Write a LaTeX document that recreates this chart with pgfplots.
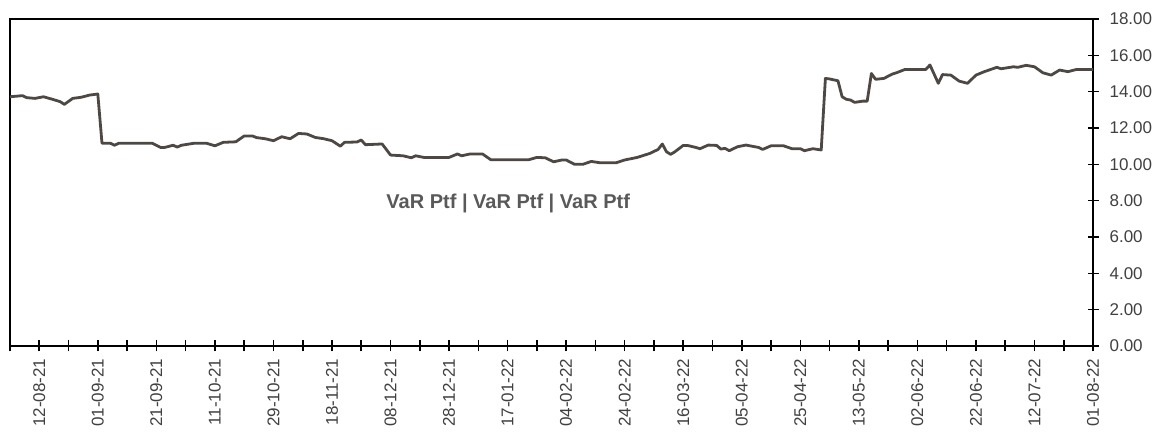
\documentclass[border=0pt]{standalone}
\usepackage{fontspec}
\setmainfont{Liberation Sans}
\usepackage{pgfplots}
\pgfplotsset{compat=1.18}
\definecolor{varline}{RGB}{77,72,68}
\definecolor{ticktxt}{RGB}{64,64,64}
\definecolor{ttltxt}{RGB}{89,89,89}

\begin{document}
\begin{tikzpicture}
  \useasboundingbox (-5pt,-43pt) rectangle (575pt,173pt);
  \begin{axis}[
      scale only axis, width=541.5pt, height=163.5pt,
      xmin=0, xmax=259, ymin=0, ymax=18,
      axis line style={black, line width=0.8pt},
      xtick={7,21,35,49,63,77,91,105,119,133,147,161,175,189,203,217,231,245,259},
      xticklabels={12-08-21,01-09-21,21-09-21,11-10-21,29-10-21,18-11-21,08-12-21,28-12-21,17-01-22,04-02-22,24-02-22,16-03-22,05-04-22,25-04-22,13-05-22,02-06-22,22-06-22,12-07-22,01-08-22},
      minor xtick={0,14,28,42,56,70,84,98,112,126,140,154,168,182,196,210,224,238,252},
      xtick pos=bottom, ytick pos=right, yticklabel pos=right,
      tick align=center, major tick length=5.5pt, minor tick length=5.5pt,
      tick style={black, line width=0.8pt},
      ytick={0,2,...,18},
      x tick label style={rotate=90, anchor=east, font=\fontsize{8.5}{10}\selectfont, text=ticktxt},
      y tick label style={font=\fontsize{8.5}{10}\selectfont, text=ticktxt, xshift=2pt},
      yticklabel style={/pgf/number format/.cd, fixed, fixed zerofill, precision=2, assume math mode=true},
      clip=false,
    ]
    \addplot[varline, line width=1.4pt, line join=round] coordinates {
      (0,13.72)(3,13.78)(4,13.67)(6,13.63)(8,13.72)(10,13.59)(12,13.45)(13,13.30)
      (15,13.63)(17,13.69)(19,13.81)(21,13.87)(22,11.16)(24,11.16)(25,11.05)(26,11.16)
      (34,11.16)(36,10.93)(37,10.93)(39,11.05)(40,10.95)(41,11.05)(44,11.16)(47,11.16)
      (49,11.02)(51,11.21)(54,11.24)(56,11.56)(58,11.56)(59,11.47)(61,11.41)(63,11.30)
      (65,11.52)(66,11.46)(67,11.41)(69,11.70)(71,11.67)(73,11.48)(75,11.41)(77,11.30)
      (79,11.00)(80,11.21)(83,11.23)(84,11.34)(85,11.08)(89,11.12)(91,10.51)(94,10.47)
      (96,10.36)(97,10.47)(99,10.38)(105,10.38)(107,10.57)(108,10.47)(110,10.57)(113,10.57)
      (115,10.25)(124,10.25)(126,10.38)(128,10.36)(130,10.14)(132,10.24)(133,10.24)(135,10.00)
      (137,10.00)(139,10.16)(141,10.09)(145,10.09)(147,10.24)(150,10.38)(153,10.60)(155,10.82)
      (156,11.12)(157,10.69)(158,10.55)(159,10.69)(161,11.04)(162,11.04)(164,10.93)(165,10.86)
      (167,11.06)(169,11.04)(170,10.84)(171,10.88)(172,10.75)(174,10.97)(176,11.06)(179,10.93)
      (180,10.82)(182,11.02)(185,11.02)(187,10.86)(189,10.86)(190,10.75)(192,10.86)(194,10.79)
      (195,14.73)(196,14.70)(198,14.60)(199,13.72)(200,13.58)(201,13.54)(202,13.41)(204,13.48)
      (205,13.48)(206,15.00)(207,14.68)(209,14.73)(211,14.97)(212,15.04)(214,15.22)(219,15.22)
      (220,15.47)(222,14.46)(223,14.94)(225,14.91)(227,14.58)(229,14.46)(231,14.91)(233,15.10)
      (236,15.34)(237,15.26)(240,15.37)(241,15.34)(243,15.45)(245,15.37)(247,15.04)(249,14.91)
      (251,15.19)(253,15.10)(255,15.22)(259,15.22)
    };
    \node[font=\fontsize{10}{12}\selectfont\bfseries, text=ttltxt] at (rel axis cs:0.46,0.437) {VaR Ptf | VaR Ptf | VaR Ptf};
  \end{axis}
\end{tikzpicture}
\end{document}
